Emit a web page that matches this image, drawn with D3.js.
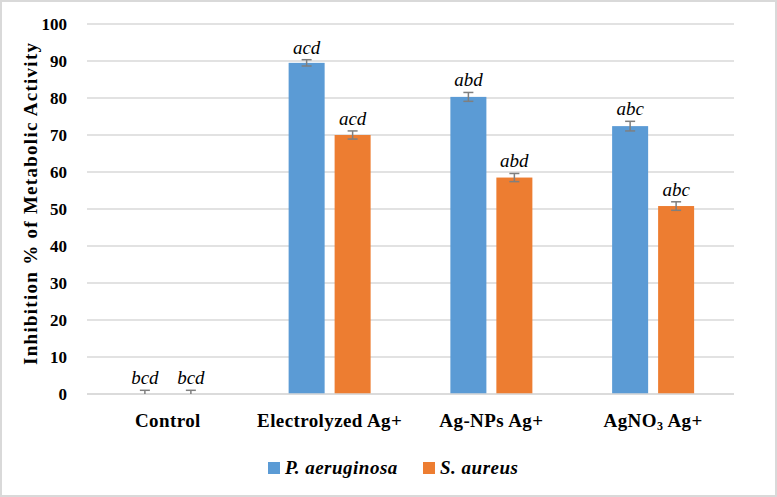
<!DOCTYPE html>
<html>
<head>
<meta charset="utf-8">
<script src="https://cdn.jsdelivr.net/npm/d3@7"></script>
<style>
body { margin: 0; background: #fff; }
svg text { font-family: "Liberation Serif", "Times New Roman", serif; }
</style>
</head>
<body>
<div id="chart"></div>
<script>
// data
var categories = ["Control", "Electrolyzed Ag+", "Ag-NPs Ag+", "AgNO3 Ag+"];
var seriesNames = ["P. aeruginosa", "S. aureus"];
var paeruginosa = [0, 89.5, 80.3, 72.4];
var saureus = [0, 70.0, 58.5, 50.8];
var paeruginosaErr = [1.0, 0.85, 1.2, 1.3];
var saureusErr = [1.0, 1.1, 1.1, 1.15];
var paeruginosaLetters = ["bcd", "acd", "abd", "abc"];
var saureusLetters = ["bcd", "acd", "abd", "abc"];
var yTicks = [0, 10, 20, 30, 40, 50, 60, 70, 80, 90, 100];

var colors = ["#5b9bd5", "#ed7d31"];

var W = 777, H = 497;
var margin = { top: 24, right: 43, bottom: 103, left: 87 },
    width = W - margin.left - margin.right,
    height = H - margin.top - margin.bottom;

var svg = d3.select("#chart")
    .append("svg")
    .attr("width", W)
    .attr("height", H);

// outer frame
svg.append("rect")
    .attr("x", 1).attr("y", 1)
    .attr("width", W - 2).attr("height", H - 2)
    .attr("fill", "#fff")
    .attr("stroke", "#d9d9d9")
    .attr("stroke-width", 2);

var g = svg.append("g")
    .attr("transform", "translate(" + margin.left + "," + margin.top + ")");

var x0 = d3.scaleBand()
    .domain(categories)
    .range([0, width])
    .padding(0);

var x1 = d3.scaleBand()
    .domain(seriesNames)
    .range([-41, 41])
    .paddingInner(0.217);

var y = d3.scaleLinear()
    .domain([0, 100])
    .range([height, 0]);

// gridlines
g.append("g")
    .selectAll("line")
    .data(yTicks)
    .enter()
    .append("line")
    .attr("x1", 0)
    .attr("x2", width)
    .attr("y1", d => y(d))
    .attr("y2", d => y(d))
    .attr("stroke", "#d9d9d9")
    .attr("stroke-width", 1.5);

// y axis labels
var yAxis = g.append("g")
    .call(d3.axisLeft(y).tickValues(yTicks).tickSize(0).tickPadding(20));
yAxis.select(".domain").remove();
yAxis.selectAll("text")
    .style("font-family", "Liberation Serif, serif")
    .style("font-weight", "bold")
    .style("font-size", "17px")
    .attr("fill", "#000");

// bars
var rows = categories.map(function(c, i) {
    return [
        { cat: c, s: seriesNames[0], v: paeruginosa[i], e: paeruginosaErr[i], l: paeruginosaLetters[i], c: colors[0] },
        { cat: c, s: seriesNames[1], v: saureus[i], e: saureusErr[i], l: saureusLetters[i], c: colors[1] }
    ];
});
var flat = [].concat.apply([], rows);

function cx(d) {
    return x0(d.cat) + x0.bandwidth() / 2 + x1(d.s);
}

g.selectAll("rect.bar")
    .data(flat)
    .enter()
    .append("rect")
    .attr("class", "bar")
    .attr("x", d => cx(d))
    .attr("y", d => y(d.v))
    .attr("width", x1.bandwidth())
    .attr("height", d => height - y(d.v))
    .attr("fill", d => d.c);

// x axis line
g.append("line")
    .attr("x1", 0).attr("x2", width)
    .attr("y1", height).attr("y2", height)
    .attr("stroke", "#d9d9d9")
    .attr("stroke-width", 1.5);

// error bars
var err = g.selectAll("g.err")
    .data(flat)
    .enter()
    .append("g")
    .attr("class", "err")
    .attr("stroke", "#7f7f7f")
    .attr("stroke-width", 1.5);
err.append("line")
    .attr("x1", d => cx(d) + x1.bandwidth() / 2)
    .attr("x2", d => cx(d) + x1.bandwidth() / 2)
    .attr("y1", d => y(d.v + d.e))
    .attr("y2", d => y(Math.max(0, d.v - d.e)));
err.append("line")
    .attr("x1", d => cx(d) + x1.bandwidth() / 2 - 5)
    .attr("x2", d => cx(d) + x1.bandwidth() / 2 + 5)
    .attr("y1", d => y(d.v + d.e))
    .attr("y2", d => y(d.v + d.e));
err.filter(d => d.v - d.e > 0).append("line")
    .attr("x1", d => cx(d) + x1.bandwidth() / 2 - 5)
    .attr("x2", d => cx(d) + x1.bandwidth() / 2 + 5)
    .attr("y1", d => y(d.v - d.e))
    .attr("y2", d => y(d.v - d.e));

// significance letters
g.selectAll("text.sig")
    .data(flat)
    .enter()
    .append("text")
    .attr("class", "sig")
    .attr("x", d => cx(d) + x1.bandwidth() / 2)
    .attr("y", d => y(d.v + d.e) - 6)
    .attr("text-anchor", "middle")
    .style("font-style", "italic")
    .style("font-size", "19px")
    .text(d => d.l);

// category labels
var catLabels = g.selectAll("text.cat")
    .data(categories)
    .enter()
    .append("text")
    .attr("class", "cat")
    .attr("x", d => x0(d) + x0.bandwidth() / 2)
    .attr("y", height + 33)
    .attr("text-anchor", "middle")
    .style("font-weight", "bold")
    .style("font-size", "19px")
    .style("letter-spacing", "0.4px");
catLabels.each(function(d) {
    var t = d3.select(this);
    if (d === "AgNO3 Ag+") {
        t.append("tspan").text("AgNO");
        t.append("tspan").attr("dy", 3).style("font-size", "12px").text("3");
        t.append("tspan").attr("dy", -3).text(" Ag+");
    } else {
        t.text(d);
    }
});

// y axis title
svg.append("text")
    .attr("transform", "translate(37,204)rotate(-90)")
    .attr("text-anchor", "middle")
    .attr("textLength", 322)
    .attr("lengthAdjust", "spacing")
    .style("font-weight", "bold")
    .style("font-size", "19px")
    .text("Inhibition % of Metabolic Activity");

// legend
var legend = svg.append("g")
    .attr("transform", "translate(268,462)");
var legX = [0, 155];
seriesNames.forEach(function(s, i) {
    legend.append("rect")
        .attr("x", legX[i]).attr("y", 0)
        .attr("width", 12).attr("height", 12)
        .attr("fill", colors[i]);
    legend.append("text")
        .attr("x", legX[i] + 17)
        .attr("y", 12)
        .style("font-weight", "bold")
        .style("font-style", "italic")
        .style("font-size", "19px")
        .style("letter-spacing", "0.5px")
        .text(s);
});
</script>
</body>
</html>
